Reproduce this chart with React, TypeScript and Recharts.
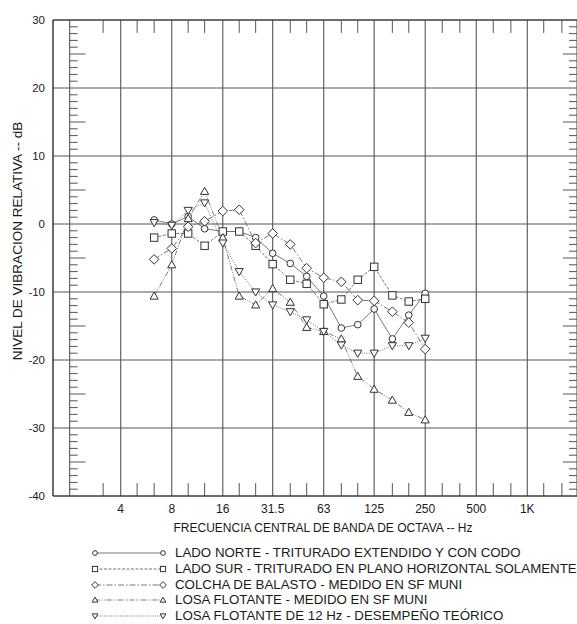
import React from 'react';
import { ComposedChart, Line, XAxis, YAxis, CartesianGrid, ReferenceLine } from 'recharts';

// third-octave band centres (Hz)
const freqs = [6.3, 8, 10, 12.5, 16, 20, 25, 31.5, 40, 50, 63, 80, 100, 125, 160, 200, 250];

// relative vibration level (dB)
const ladoNorte = [0.6, 0, 1.1, -0.7, -1.1, -1.1, -2.0, -4.3, -5.8, -7.7, -10.6, -15.3, -14.8, -12.5, -16.9, -13.4, -10.2];
const ladoSur = [-2.0, -1.4, -1.4, -3.2, -1.1, -1.1, -3.2, -5.9, -8.2, -8.8, -11.8, -11.1, -8.2, -6.3, -10.5, -11.4, -11.0];
const colcha = [-5.2, -3.6, -0.4, 0.4, 1.9, 2.1, -2.8, -1.4, -3.0, -6.5, -7.9, -8.5, -11.2, -11.3, -12.9, -14.5, -18.4];
const losaMedida = [-10.6, -6.0, 0.8, 4.8, -2.0, -10.6, -11.9, -9.5, -11.5, -15.2, -15.8, -16.9, -22.4, -24.3, -25.9, -27.7, -28.8];
const losaTeorica = [0.2, -0.2, 2.0, 3.1, -2.8, -7.0, -10.0, -11.9, -12.9, -14.1, -15.8, -17.8, -19.0, -19.0, -17.9, -17.9, -16.8];

const octaveTicks = [2, 4, 8, 16, 31.5, 63, 125, 250, 500, 1000];
const thirdTicks = [3.15, 5, 6.3, 10, 12.5, 20, 25, 40, 50, 80, 100, 160, 200, 315, 400, 630, 800, 1250, 1600];
const dbTicks = [-40, -30, -20, -10, 0, 10, 20, 30];

const X_MIN = 1.595;
const X_MAX = 1964;
const Y_MIN = -40;
const Y_MAX = 30;

const data = freqs.map((f, i) => ({
  f,
  norte: ladoNorte[i],
  sur: ladoSur[i],
  colcha: colcha[i],
  losaMedida: losaMedida[i],
  losaTeorica: losaTeorica[i],
}));

const dbMinor: number[] = [];
for (let v = Y_MIN + 1; v < Y_MAX; v++) if (v % 10 !== 0) dbMinor.push(v);

const FONT = '"Liberation Sans", Arial, Helvetica, sans-serif';
const LINE = '#6a6a6a';
const MARK = '#333';
const GRID = '#555';

type Kind = 'circle' | 'square' | 'diamond' | 'up' | 'down';

const marker = (kind: Kind, cx: number, cy: number, s: number, key?: any) => {
  const p = { fill: '#fff', stroke: MARK, strokeWidth: 1 };
  if (kind === 'circle') return <circle key={key} cx={cx} cy={cy} r={s * 0.9} {...p} />;
  if (kind === 'square') return <rect key={key} x={cx - s} y={cy - s} width={s * 2} height={s * 2} {...p} />;
  if (kind === 'diamond') {
    const d = s * 1.3;
    return <polygon key={key} points={`${cx},${cy - d} ${cx + d},${cy} ${cx},${cy + d} ${cx - d},${cy}`} {...p} />;
  }
  const h = s * 1.1;
  if (kind === 'up')
    return <polygon key={key} points={`${cx},${cy - h} ${cx + h},${cy + h * 0.75} ${cx - h},${cy + h * 0.75}`} {...p} />;
  return <polygon key={key} points={`${cx},${cy + h} ${cx + h},${cy - h * 0.75} ${cx - h},${cy - h * 0.75}`} {...p} />;
};

const dotFor = (kind: Kind) => (props: any) => {
  const { cx, cy, index } = props;
  if (cx == null || cy == null) return <g key={index} />;
  return marker(kind, cx, cy, 3.7, index);
};

const series = [
  { key: 'norte', kind: 'circle' as Kind, dash: undefined, name: 'LADO NORTE - TRITURADO EXTENDIDO Y CON CODO' },
  { key: 'sur', kind: 'square' as Kind, dash: '3 1.5', name: 'LADO SUR - TRITURADO EN PLANO HORIZONTAL SOLAMENTE' },
  { key: 'colcha', kind: 'diamond' as Kind, dash: '6 2 1.5 2', name: 'COLCHA DE BALASTO - MEDIDO EN SF MUNI' },
  { key: 'losaMedida', kind: 'up' as Kind, dash: '5 1.5 1 1.5 1 1.5', name: 'LOSA FLOTANTE - MEDIDO EN SF MUNI' },
  { key: 'losaTeorica', kind: 'down' as Kind, dash: '1 1.3', name: 'LOSA FLOTANTE DE 12 Hz - DESEMPEÑO TEÓRICO' },
];

const fmtX = (v: number) => (v === 2 ? '' : v === 1000 ? '1K' : String(v));

export default function App() {
  return (
    <div style={{ position: 'absolute', left: 0, top: 0, width: 577, height: 624, fontFamily: FONT, background: '#fff' }}>
      <ComposedChart width={577} height={624} data={data} margin={{ top: 20, right: 0, bottom: 98, left: 0 }}>
        <CartesianGrid stroke={GRID} strokeWidth={1.1} />
        <XAxis
          dataKey="f"
          type="number"
          scale="log"
          domain={[X_MIN, X_MAX]}
          allowDataOverflow
          ticks={octaveTicks}
          tickFormatter={fmtX}
          tickLine={false}
          axisLine={{ stroke: '#333' }}
          tick={{ fontSize: 12, fill: '#1a1a1a', fontFamily: FONT }}
          height={30}
          label={{
            content: (p: any) => {
              const vb = p.viewBox || { x: 53, width: 524, y: 496 };
              return (
                <text x={vb.x + vb.width / 2 + 8} y={532} textAnchor="middle" fontSize={12} fill="#1a1a1a" fontFamily={FONT}>
                  FRECUENCIA CENTRAL DE BANDA DE OCTAVA -- Hz
                </text>
              );
            },
          }}
        />
        <YAxis
          type="number"
          domain={[Y_MIN, Y_MAX]}
          ticks={dbTicks}
          width={53}
          tickLine={false}
          axisLine={{ stroke: '#333' }}
          tick={{ fontSize: 11.5, fill: '#1a1a1a', fontFamily: FONT }}
          label={{
            content: () => (
              <text
                x={0}
                y={0}
                transform="translate(22 241) rotate(-90)"
                textAnchor="middle"
                fontSize={13.5}
                fill="#1a1a1a"
                fontFamily={FONT}
              >
                NIVEL DE VIBRACION RELATIVA -- dB
              </text>
            ),
          }}
        />
        <ReferenceLine y={Y_MAX} stroke="#333" />
        {thirdTicks.map((f) => (
          <ReferenceLine key={'t' + f} segment={[{ x: f, y: Y_MAX }, { x: f, y: Y_MAX - 1.9 }]} stroke={GRID} />
        ))}
        {thirdTicks.map((f) => (
          <ReferenceLine key={'b' + f} segment={[{ x: f, y: Y_MIN }, { x: f, y: Y_MIN + 1.9 }]} stroke={GRID} />
        ))}
        {dbMinor.map((v) => (
          <ReferenceLine
            key={'l' + v}
            segment={[{ x: 2, y: v }, { x: 2 * Math.pow(2, v % 5 === 0 ? 0.31 : 0.157), y: v }]}
            stroke={GRID}
          />
        ))}
        {dbMinor.map((v) => (
          <ReferenceLine
            key={'r' + v}
            segment={[{ x: X_MAX, y: v }, { x: X_MAX / Math.pow(2, v % 5 === 0 ? 0.274 : 0.157), y: v }]}
            stroke={GRID}
          />
        ))}
        {series.map((s) => (
          <Line
            key={s.key}
            dataKey={s.key}
            type="linear"
            stroke={LINE}
            strokeWidth={0.9}
            strokeDasharray={s.dash}
            dot={dotFor(s.kind)}
            activeDot={false}
            isAnimationActive={false}
          />
        ))}
      </ComposedChart>
      {series.map((s, i) => (
        <div
          key={s.key}
          style={{ position: 'absolute', left: 88, top: 545.3 + i * 15.7, height: 16, display: 'flex', alignItems: 'center' }}
        >
          <svg width={82} height={16} style={{ display: 'block' }}>
            <line x1={7} y1={8} x2={75} y2={8} stroke={LINE} strokeWidth={0.9} strokeDasharray={s.dash} />
            {marker(s.kind, 7, 8, 2.6)}
            {marker(s.kind, 75, 8, 2.6)}
          </svg>
          <span style={{ marginLeft: 5, fontSize: 13.3, color: '#1a1a1a', whiteSpace: 'nowrap', lineHeight: '16px' }}>
            {s.name}
          </span>
        </div>
      ))}
    </div>
  );
}
